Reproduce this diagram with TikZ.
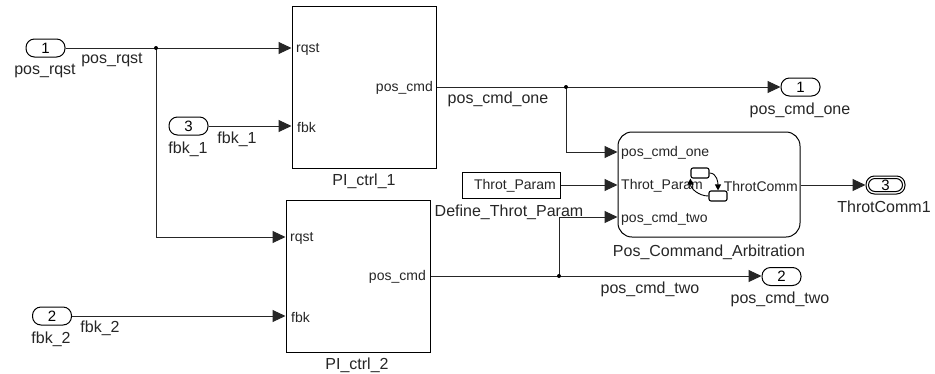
\documentclass[tikz,border=0pt]{standalone}
\usepackage{fontspec}
\setmainfont{Liberation Sans}
\usetikzlibrary{positioning,arrows.meta}
\tikzset{
  lbl/.style={inner sep=0pt,font=\fontsize{16}{16}\selectfont,text=black!85},
  portlbl/.style={inner sep=0pt,font=\fontsize{14}{14}\selectfont,text=black!85},
  portpill/.style={draw,line width=1pt,rounded corners=8.5pt,minimum width=39pt,minimum height=18pt,inner sep=0pt,font=\fontsize{15}{15}\selectfont},
  subsys/.style={draw,line width=1pt,inner sep=0pt},
  statebox/.style={draw,rounded corners=2pt,line width=1.1pt,minimum width=18pt,minimum height=10pt,inner sep=0pt},
  wire/.style={line width=1pt,black!85},
  junct/.style={circle,fill=black,inner sep=0pt,minimum size=4pt},
}
\begin{document}
\begin{tikzpicture}[x=1pt,y=-1pt,>={Triangle[length=13pt,width=12pt]}]
\useasboundingbox (0,0) rectangle (935,373);
\fill[white] (0,0) rectangle (935,373);
% inports
\node[portpill] (inRqst) at (45.5,48) {1};
\node[lbl] (inRqstName) at (45,71) {pos\_rqst};
\node[portpill] (inFbkOne) at (188.5,126) {3};
\node[lbl] (inFbkOneName) at (188,149) {fbk\_1};
\node[portpill] (inFbkTwo) at (52,316) {2};
\node[lbl] (inFbkTwoName) at (51,339) {fbk\_2};
% controllers
\node[subsys,minimum width=144pt,minimum height=162pt] (ctrlOne) at (364,87) {};
\node[lbl] (ctrlOneName) at (364,181) {PI\_ctrl\_1};
\node[portlbl,anchor=west] (ctrlOneRqst) at (296,49) {rqst};
\node[portlbl,anchor=west] (ctrlOneFbk) at (297,127) {fbk};
\node[portlbl,anchor=east] (ctrlOneCmd) at (433,88) {pos\_cmd};
\node[subsys,minimum width=144pt,minimum height=152pt] (ctrlTwo) at (358,276) {};
\node[lbl] (ctrlTwoName) at (357,365) {PI\_ctrl\_2};
\node[portlbl,anchor=west] (ctrlTwoRqst) at (290,238) {rqst};
\node[portlbl,anchor=west] (ctrlTwoFbk) at (291,317) {fbk};
\node[portlbl,anchor=east] (ctrlTwoCmd) at (426,277) {pos\_cmd};
% constant
\node[subsys,minimum width=98pt,minimum height=26pt] (throtParam) at (511,185) {};
\node[portlbl,anchor=east] (throtParamVal) at (556,186) {Throt\_Param};
\node[lbl] (throtParamName) at (509,212) {Define\_Throt\_Param};
% chart
\node[subsys,rounded corners=14pt,minimum width=182pt,minimum height=105pt] (chart) at (709,184.5) {};
\node[lbl] (chartName) at (709,252) {Pos\_Command\_Arbitration};
\node[portlbl,anchor=west] (chartOne) at (621,153) {pos\_cmd\_one};
\node[portlbl,anchor=west] (chartParam) at (621,186) {Throt\_Param};
\node[portlbl,anchor=west] (chartTwo) at (621,219) {pos\_cmd\_two};
\node[portlbl,anchor=east] (chartOut) at (798,186) {ThrotComm};
% state icon
\node[statebox] (stateA) at (700,173) {};
\node[statebox] (stateB) at (718,196) {};
\draw[line width=0.9pt,-{Triangle[length=6pt,width=6pt]}] (stateA.east) to[out=0,in=90] (stateB.north);
\draw[line width=0.9pt,-{Triangle[length=6pt,width=6pt]}] (stateB.west) to[out=180,in=-90] (stateA.south west);
% outports
\node[portpill] (outOne) at (800.5,87) {1};
\node[lbl] (outOneName) at (800,110) {pos\_cmd\_one};
\node[portpill] (outTwo) at (781.5,276.5) {2};
\node[lbl] (outTwoName) at (780,299) {pos\_cmd\_two};
\node[portpill] (outThree) at (885.5,185) {3};
\node[draw,rounded corners=6.5pt,line width=1pt,minimum width=34pt,minimum height=13pt,inner sep=0pt] (outThreeIn) at (885.5,185) {};
\node[lbl] (outThreeName) at (884,207) {ThrotComm1};
% wires
\coordinate (jRqst) at (156,48);
\coordinate (jOne) at (566,87);
\coordinate (jTwo) at (559,276);
\draw[wire,->] (inRqst) -- (ctrlOne.west |- inRqst);
\draw[wire,->] (jRqst) |- (ctrlTwo.west |- 0,237);
\draw[wire,->] (inFbkOne) -- (ctrlOne.west |- inFbkOne);
\draw[wire,->] (inFbkTwo) -- (ctrlTwo.west |- inFbkTwo);
\draw[wire,->] (ctrlOne.east) -- (outOne);
\draw[wire,->] (jOne) |- (chart.west |- 0,152);
\draw[wire,->] (ctrlTwo.east |- jTwo) -- (outTwo.west |- jTwo);
\draw[wire,->] (jTwo) |- (chart.west |- 0,217);
\draw[wire,->] (throtParam) -- (chart.west |- throtParam);
\draw[wire,->] (chart.east |- outThree) -- (outThree);
\node[junct] (dotRqst) at (jRqst) {};
\node[junct] (dotOne) at (jOne) {};
\node[junct] (dotTwo) at (jTwo) {};
% signal names
\node[lbl] (sigRqst) at (112,60) {pos\_rqst};
\node[lbl] (sigFbkOne) at (237,139) {fbk\_1};
\node[lbl] (sigFbkTwo) at (100,328) {fbk\_2};
\node[lbl] (sigOne) at (498,99) {pos\_cmd\_one};
\node[lbl] (sigTwo) at (650,289) {pos\_cmd\_two};
\end{tikzpicture}
\end{document}
